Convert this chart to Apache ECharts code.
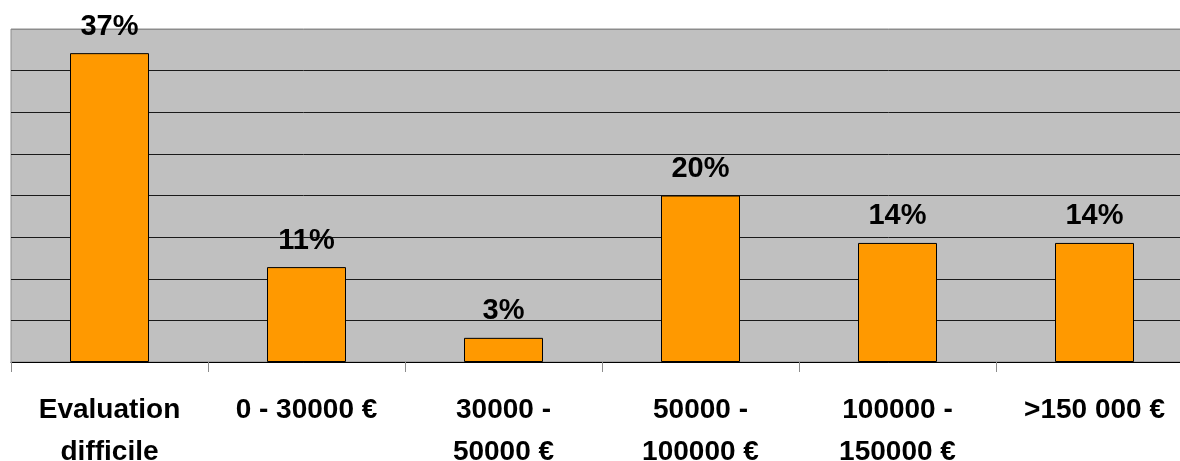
<!DOCTYPE html>
<html>
<head>
<meta charset="utf-8">
<script src="https://cdn.jsdelivr.net/npm/echarts@6/dist/echarts.min.js"></script>
<style>
html,body{margin:0;padding:0;background:#fff;}
#chart{width:1180px;height:461px;}
</style>
</head>
<body>
<div id="chart"></div>
<script>
const categories = ['Evaluation\ndifficile', '0 - 30000 €', '30000 -\n50000 €', '50000 -\n100000 €', '100000 -\n150000 €', '>150 000 €'];
const values = [37.1, 11.4, 2.9, 20.0, 14.3, 14.3];
const yTicks = [0, 5, 10, 15, 20, 25, 30, 35, 40];

const chart = echarts.init(document.getElementById('chart'), null, {renderer: 'canvas'});
const gridColors = yTicks.map((t, i) => i === yTicks.length - 1 ? '#8c8c8c' : '#1a1a1a');
chart.setOption({
  animation: false,
  textStyle: {fontFamily: 'Liberation Sans, Arial, sans-serif'},
  grid: {
    left: 11, right: -13, top: 29, bottom: 99,
    outerBoundsMode: 'none', containLabel: false,
    show: true, backgroundColor: '#C0C0C0', borderColor: '#8c8c8c', borderWidth: 1
  },
  xAxis: {
    type: 'category',
    data: categories,
    axisLine: {show: true, lineStyle: {color: '#000', width: 1}},
    axisTick: {show: true, length: 10, lineStyle: {color: '#8c8c8c'}},
    axisLabel: {
      interval: 0, margin: 27,
      fontFamily: 'Liberation Sans, Arial, sans-serif',
      fontWeight: 'bold', fontSize: 28, lineHeight: 42, color: '#000'
    }
  },
  yAxis: {
    type: 'value',
    min: yTicks[0], max: yTicks[yTicks.length - 1], interval: 5,
    axisLine: {show: false},
    axisTick: {show: false},
    axisLabel: {show: false},
    splitLine: {show: true, lineStyle: {color: gridColors, width: 1}}
  },
  series: [{
    type: 'bar',
    data: values,
    barWidth: 79,
    itemStyle: {color: '#FF9900', borderColor: '#000', borderWidth: 1},
    label: {
      show: true, position: 'top', distance: 12,
      formatter: p => Math.round(p.value) + '%',
      fontFamily: 'Liberation Sans, Arial, sans-serif',
      fontWeight: 'bold', fontSize: 29, color: '#000'
    }
  }]
});
</script>
</body>
</html>
